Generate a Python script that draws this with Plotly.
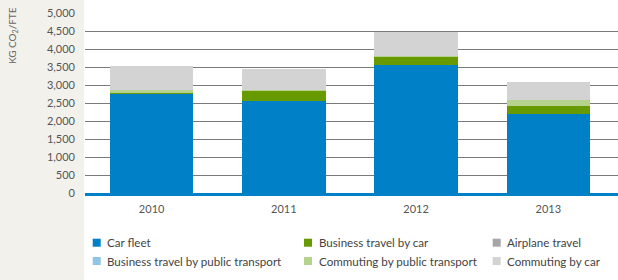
import plotly.graph_objects as go

years = ["2010", "2011", "2012", "2013"]
series_names = ["Car fleet", "Business travel by car", "Airplane travel",
                "Business travel by public transport", "Commuting by public transport",
                "Commuting by car"]
car_fleet = [2750, 2565, 3565, 2195]
business_car = [40, 280, 215, 220]
airplane = [0, 0, 0, 0]
business_public = [0, 0, 0, 0]
commuting_public = [80, 10, 25, 165]
commuting_car = [650, 590, 665, 500]
colors = ["#0080c6", "#669a00", "#a6a6a6", "#8fc6e6", "#b5d38c", "#d3d3d3"]
y_ticks = [0, 500, 1000, 1500, 2000, 2500, 3000, 3500, 4000, 4500, 5000]

values = [car_fleet, business_car, airplane, business_public, commuting_public, commuting_car]

FONT = "Lato"
fig = go.Figure()
for name, vals, col in zip(series_names, values, colors):
    fig.add_trace(go.Bar(x=years, y=vals, name=name, marker=dict(color=col, line=dict(width=0)),
                         showlegend=False))

W, H = 618, 280
ml, mr, mt, mb = 85, 0, 13, 87
pw, ph = W - ml - mr, H - mt - mb

def px(x):
    return (x - ml) / pw

def py(y):
    return (H - mb - y) / ph

shapes = [dict(type="rect", xref="paper", yref="paper", x0=px(84), x1=1.01, y0=-0.6, y1=1.2,
               fillcolor="white", line=dict(width=0), layer="below")]
annotations = []
# manual legend, 3 columns x 2 rows (row-major order)
col_x = [92.7, 304, 492.7]
row_y = [242.7, 261]
for i, (name, col) in enumerate(zip(series_names, colors)):
    c, r = i % 3, i // 3
    x0, yc = col_x[c], row_y[r]
    shapes.append(dict(type="rect", xref="paper", yref="paper",
                       x0=px(x0), x1=px(x0 + 8), y0=py(yc - 4), y1=py(yc + 4),
                       fillcolor=col, line=dict(width=0)))
    annotations.append(dict(text=name, xref="paper", yref="paper", x=px(x0 + 12.5), y=py(yc),
                            xanchor="left", yanchor="middle", showarrow=False,
                            font=dict(family=FONT, size=11.6, color="#444444")))

annotations.append(dict(text="KG CO<sub>2</sub>/FTE", textangle=-90, xref="paper", yref="paper",
                        x=px(12.5), y=py(5), xanchor="center", yanchor="top", showarrow=False,
                        font=dict(family=FONT, size=10, color="#666666")))

fig.update_layout(
    width=W, height=H,
    margin=dict(l=ml, r=mr, t=mt, b=mb),
    paper_bgcolor="#f2f1ec", plot_bgcolor="white",
    barmode="stack", bargap=0.37,
    font=dict(family=FONT, size=11, color="#555555"),
    shapes=shapes, annotations=annotations,
    xaxis=dict(range=[-0.504, 3.527], showgrid=False, showline=True, linecolor="#0080c6",
               linewidth=2.5, ticks="", tickfont=dict(size=11, color="#555555"),
               ticklabelstandoff=4),
    yaxis=dict(range=[0, 5000], tickvals=y_ticks, tickformat=",d", showgrid=True,
               gridcolor="#7a7a7a", gridwidth=1, zeroline=False, showline=False, ticks="",
               ticklabelstandoff=9, tickfont=dict(size=11, color="#555555")),
    showlegend=False,
)
fig.write_html("out.html")
